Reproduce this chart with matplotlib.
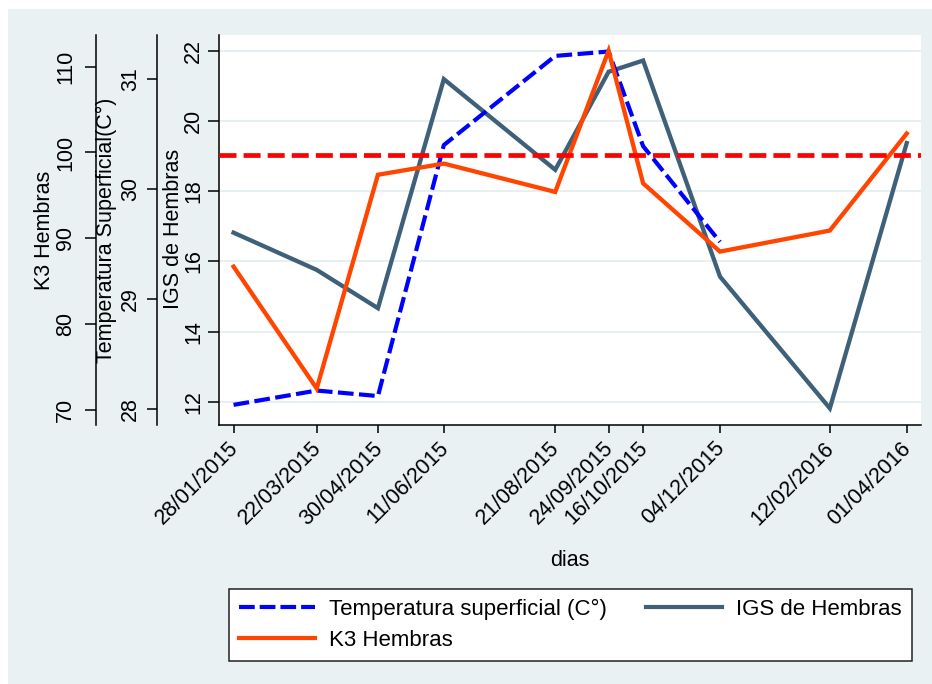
import matplotlib
matplotlib.use('Agg')
import matplotlib.pyplot as plt
import matplotlib.transforms as mtransforms
import numpy as np
import pandas as pd
from matplotlib.lines import Line2D
from matplotlib.patches import Rectangle

# ---------------- data ----------------
fechas = ["28/01/2015", "22/03/2015", "30/04/2015", "11/06/2015", "21/08/2015",
          "24/09/2015", "16/10/2015", "04/12/2015", "12/02/2016", "01/04/2016"]
igs_hembras = [16.82, 15.76, 14.67, 21.19, 18.61, 21.40, 21.72, 15.57, 11.82, 19.37]
k3_hembras = [86.7, 72.5, 97.4, 98.7, 95.4, 111.85, 96.4, 88.45, 90.9, 102.2]
temperatura = [28.04, 28.17, 28.12, 30.40, 31.21, 31.25, 30.39, 29.52, np.nan, np.nan]
igs_referencia = 19.03

igs_ticks = [12, 14, 16, 18, 20, 22]
temp_ticks = [28, 29, 30, 31]
k3_ticks = [70, 80, 90, 100, 110]

# ---------------- style ----------------
FONT = 'Liberation Sans'
plt.rcParams['font.family'] = [FONT, 'DejaVu Sans']
FS = 15.5
FS_LEG = 16
C_GRAY = '#3e6079'
C_ORANGE = '#ff4500'
C_BLUE = '#0000ff'
C_RED = '#ff0000'
BG = '#e9f1f3'

W, H = 932, 684
fig = plt.figure(figsize=(W / 100, H / 100), dpi=100)
fig.patch.set_facecolor('white')
fig.patches.append(Rectangle((8 / W, 0), 1, 1 - 9 / H, transform=fig.transFigure,
                             facecolor=BG, edgecolor='none', zorder=-10))

L, R, T, B = 219.3, 921, 35, 425
ax = fig.add_axes([L / W, 1 - B / H, (R - L) / W, (B - T) / H])
ax.set_facecolor('white')

x = pd.to_datetime(fechas, format="%d/%m/%Y")
pad_days = pd.Timedelta(days=9.1)

ax_t = ax.twinx()
ax_k = ax.twinx()
ref_ax = ax.twinx()

# IGS (main axis)
ax.plot(x, igs_hembras, color=C_GRAY, lw=3.1, solid_joinstyle='miter')
ax.set_ylim(11.345, 22.447)
ax.set_yticks(igs_ticks)
ax.grid(axis='y', color='#e4eef0', lw=1.3)
ax.set_axisbelow(True)

# Temperature
ax_t.plot(x, temperatura, color=C_BLUE, lw=3.0, dashes=(3.77, 1.3))
ax_t.set_ylim(27.857, 31.40)
ax_t.set_yticks(temp_ticks)

# K3
ax_k.plot(x, k3_hembras, color=C_ORANGE, lw=3.1, solid_joinstyle='miter')
ax_k.set_ylim(68.25, 113.68)
ax_k.set_yticks(k3_ticks)

# reference line on top
ref_ax.set_ylim(ax.get_ylim())
ref_ax.axhline(igs_referencia, color=C_RED, lw=3.4, dashes=(3.6, 1.5))
ref_ax.axis('off')

for a in (ax, ax_t, ax_k, ref_ax):
    a.set_xlim(x[0] - pad_days, x[-1] + pad_days)

# spines
for a in (ax_t, ax_k):
    for s in ('top', 'right', 'bottom'):
        a.spines[s].set_visible(False)
    a.spines['left'].set_visible(True)
    a.yaxis.set_ticks_position('left')
    a.yaxis.set_label_position('left')
ax.spines['top'].set_visible(False)
ax.spines['right'].set_visible(False)
ax_t.spines['left'].set_position(('outward', 44.6))
ax_k.spines['left'].set_position(('outward', 89.0))

for a in (ax, ax_t, ax_k):
    a.spines['left'].set_linewidth(1.1)
ax.spines['bottom'].set_linewidth(1.1)

ax.tick_params(axis='y', length=8, width=1.1, pad=3.0, labelsize=FS, labelrotation=90)
ax_t.tick_params(axis='y', length=7.5, width=1.1, pad=4.3, labelsize=FS, labelrotation=90)
ax_k.tick_params(axis='y', length=7.7, width=1.1, pad=6.5, labelsize=FS, labelrotation=90)
for a in (ax, ax_t, ax_k):
    for lab in a.get_yticklabels():
        lab.set_va('center')

# x axis
ax.set_xticks(x)
ax.set_xticklabels(fechas, rotation=45, ha='right', rotation_mode='anchor')
ax.tick_params(axis='x', length=6, width=1.1, pad=4, labelsize=FS)
shift = mtransforms.ScaledTranslation(-6 / 100, 1 / 100, fig.dpi_scale_trans)
for lab in ax.get_xticklabels():
    lab.set_transform(lab.get_transform() + shift)
for a in (ax_t, ax_k):
    a.tick_params(axis='x', bottom=False, labelbottom=False)

# axis titles
def fx(px):
    return px / W

def fy(py):
    return 1 - py / H

fig.text(fx(44), fy(230), 'K3 Hembras', rotation=90, ha='center', va='center', fontsize=FS)
fig.text(fx(106.5), fy(230), 'Temperatura Superficial(C°)', rotation=90, ha='center', va='center', fontsize=FS)
fig.text(fx(173.5), fy(229), 'IGS de Hembras', rotation=90, ha='center', va='center', fontsize=FS)
fig.text(fx(570), fy(560), 'dias', ha='center', va='center', fontsize=FS)

# legend
handles = [
    Line2D([], [], color=C_BLUE, lw=3.0, dashes=(3.77, 1.2)),
    Line2D([], [], color=C_ORANGE, lw=3.0),
    Line2D([], [], color=C_GRAY, lw=3.0),
]
labels = ['Temperatura superficial (C°)', 'K3 Hembras', 'IGS de Hembras']
leg = fig.legend(handles, labels, ncol=2, loc='upper left',
                 bbox_to_anchor=(fx(229), fy(589), (912 - 229) / W, 0.0),
                 mode='expand', fontsize=FS_LEG, frameon=True, fancybox=False,
                 edgecolor='#222222', framealpha=1, handlelength=3.4,
                 handletextpad=0.65, borderpad=0.45, labelspacing=0.45,
                 borderaxespad=0.0, columnspacing=1.0)
leg.get_frame().set_linewidth(1.1)

fig.savefig('out.png', dpi=100, facecolor=fig.get_facecolor())
